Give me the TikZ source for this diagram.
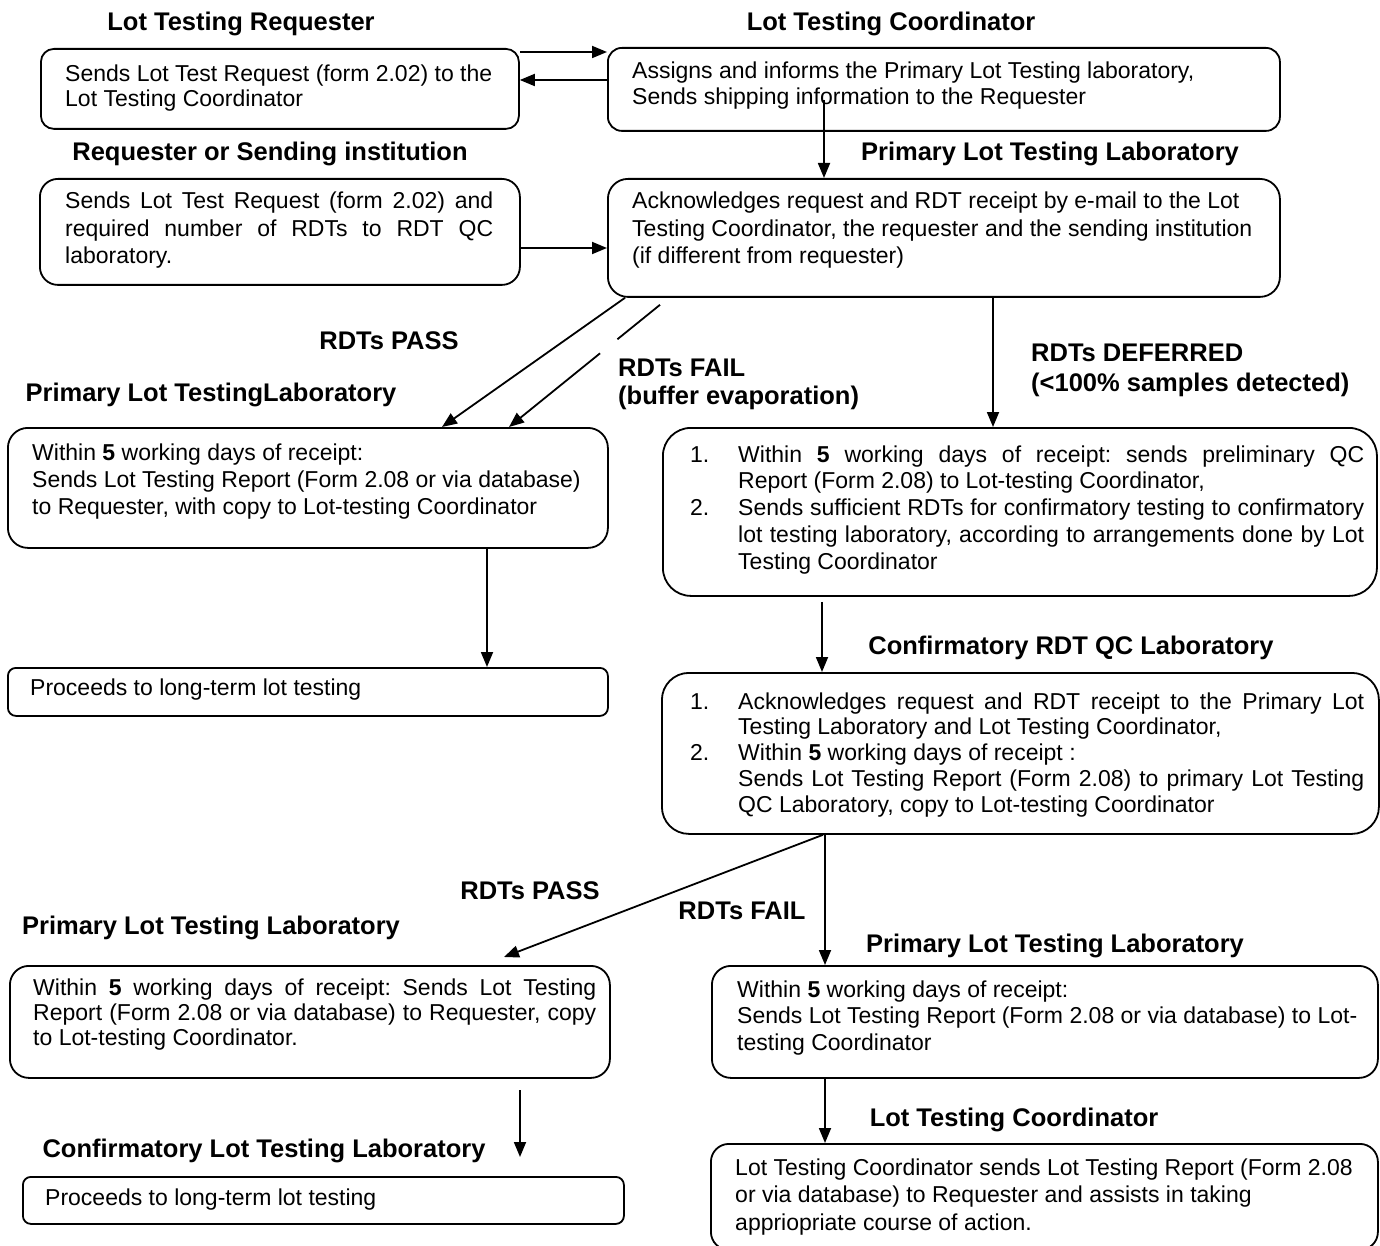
\documentclass[tikz,border=0pt]{standalone}
\usepackage{fontspec}
\setmainfont{Liberation Sans}
\usetikzlibrary{arrows.meta,calc}
\frenchspacing

% body text block: [baselineskip]{width}{lines}
\newcommand{\txtbox}[3][26.7]{\parbox[t]{#2pt}{\fontsize{23}{#1}\selectfont #3}}
% fully justified line of a given width
\newcommand{\jline}[2]{\makebox[#1pt][s]{#2}}
% list number and continuation indent
\newcommand{\num}[1]{\makebox[48pt][l]{#1}}
\newcommand{\contline}{\hspace*{48pt}}
% bold multi-line label
\newcommand{\headlines}[3]{\parbox[t]{#1pt}{\fontsize{25.5}{#2}\selectfont\bfseries #3}}

\tikzset{
  flowbox/.style={draw, line width=1.8pt, inner sep=0pt, anchor=north west},
  bodytext/.style={inner sep=0pt, anchor=base west},
  heading/.style={inner sep=0pt, anchor=base, font=\fontsize{25.5}{29}\selectfont\bfseries},
  flowarrow/.style={line width=1.8pt, -{Triangle[length=15pt,width=12pt]}},
}

\begin{document}
\begin{tikzpicture}[x=1pt,y=-1pt]
\useasboundingbox (0,0) rectangle (1380,1246);

% ---------- boxes ----------
\node[flowbox, rounded corners=13pt, minimum width=478pt, minimum height=80pt]  (A) at (40,48) {};
\node[flowbox, rounded corners=14pt, minimum width=672pt, minimum height=83pt]  (B) at (607,47) {};
\node[flowbox, rounded corners=18pt, minimum width=480pt, minimum height=106pt] (C) at (39,178) {};
\node[flowbox, rounded corners=20pt, minimum width=672pt, minimum height=118pt] (D) at (607,178) {};
\node[flowbox, rounded corners=20pt, minimum width=600pt, minimum height=120pt] (E) at (7,427) {};
\node[flowbox, rounded corners=8pt,  minimum width=600pt, minimum height=48pt]  (F) at (7,667) {};
\node[flowbox, rounded corners=28pt, minimum width=714pt, minimum height=168pt] (G) at (662,427) {};
\node[flowbox, rounded corners=27pt, minimum width=717pt, minimum height=161pt] (H) at (661,672) {};
\node[flowbox, rounded corners=19pt, minimum width=600pt, minimum height=112pt] (J) at (9,965) {};
\node[flowbox, rounded corners=19pt, minimum width=666pt, minimum height=112pt] (I) at (711,965) {};
\node[flowbox, rounded corners=8pt,  minimum width=601pt, minimum height=47pt]  (K) at (22,1176) {};
\node[flowbox, rounded corners=18pt, minimum width=667pt, minimum height=106pt] (L) at (710,1143) {};

% ---------- box texts ----------
\node[bodytext] (tA) at (65,82) {\txtbox[25]{470}{Sends Lot Test Request (form 2.02) to the\\
Lot Testing Coordinator}};
\node[bodytext] (tB) at (632,79) {\txtbox[26]{640}{Assigns and informs the Primary Lot Testing laboratory,\\
Sends shipping information to the Requester}};
\node[bodytext] (tC) at (65,209) {\txtbox[27.5]{440}{\jline{428}{Sends Lot Test Request (form 2.02) and}\\
\jline{428}{required number of RDTs to RDT QC}\\
laboratory.}};
\node[bodytext] (tD) at (632,209) {\txtbox[27.5]{660}{Acknowledges request and RDT receipt by e-mail to the Lot\\
Testing Coordinator, the requester and the sending institution\\
(if different from requester)}};
\node[bodytext] (tE) at (32,460) {\txtbox[27]{580}{Within \textbf{5} working days of receipt:\\
Sends Lot Testing Report (Form 2.08 or via database)\\
to Requester, with copy to Lot-testing Coordinator}};
\node[bodytext] (tF) at (30,695) {\txtbox{580}{Proceeds to long-term lot testing}};
\node[bodytext] (tG) at (690,462) {\txtbox[26.75]{690}{\num{1.}\jline{626}{Within \textbf{5} working days of receipt: sends preliminary QC}\\
\contline Report (Form 2.08) to Lot-testing Coordinator,\\
\num{2.}\jline{626}{Sends sufficient RDTs for confirmatory testing to confirmatory}\\
\contline\jline{626}{lot testing laboratory, according to arrangements done by Lot}\\
\contline Testing Coordinator}};
\node[bodytext] (tH) at (690,709) {\txtbox[25.8]{690}{\num{1.}\jline{626}{Acknowledges request and RDT receipt to the Primary Lot}\\
\contline Testing Laboratory and Lot Testing Coordinator,\\
\num{2.}Within \textbf{5} working days of receipt :\\
\contline\jline{626}{Sends Lot Testing Report (Form 2.08) to primary Lot Testing}\\
\contline QC Laboratory, copy to Lot-testing Coordinator}};
\node[bodytext] (tJ) at (33,995) {\txtbox[25]{570}{\jline{563}{Within \textbf{5} working days of receipt: Sends Lot Testing}\\
\jline{563}{Report (Form 2.08 or via database) to Requester, copy}\\
to Lot-testing Coordinator.}};
\node[bodytext] (tI) at (737,997) {\txtbox[26.5]{640}{Within \textbf{5} working days of receipt:\\
Sends Lot Testing Report (Form 2.08 or via database) to Lot-\\
testing Coordinator}};
\node[bodytext] (tL) at (735,1175) {\txtbox[27.5]{640}{Lot Testing Coordinator sends Lot Testing Report (Form 2.08\\
or via database) to Requester and assists in taking\\
appriopriate course of action.}};
\node[bodytext] (tK) at (45,1205) {\txtbox{570}{Proceeds to long-term lot testing}};

% ---------- headings and branch labels ----------
\node[heading] (hA) at (241,31)   {Lot Testing Requester};
\node[heading] (hB) at (891,31)   {Lot Testing Coordinator};
\node[heading] (hC) at (270,161)  {Requester or Sending institution};
\node[heading] (hD) at (1050,161) {Primary Lot Testing Laboratory};
\node[heading] (pass1) at (389,349) {RDTs PASS};
\node[heading] (hE) at (211,401)  {Primary Lot TestingLaboratory};
\node[bodytext] (fail1) at (618,376) {\headlines{300}{28}{RDTs FAIL\\(buffer evaporation)}};
\node[bodytext] (defer) at (1031,361) {\headlines{340}{30}{RDTs DEFERRED\\(<100\% samples detected)}};
\node[heading] (hH) at (1071,654) {Confirmatory RDT QC Laboratory};
\node[heading] (pass2) at (530,899) {RDTs PASS};
\node[heading] (fail2) at (742,919) {RDTs FAIL};
\node[heading] (hJ) at (211,934)  {Primary Lot Testing Laboratory};
\node[heading] (hI) at (1055,952) {Primary Lot Testing Laboratory};
\node[heading] (hL) at (1014,1126) {Lot Testing Coordinator};
\node[heading] (hK) at (264,1157) {Confirmatory Lot Testing Laboratory};

% ---------- connector columns ----------
\coordinate (rowTop) at (0,52);
\coordinate (rowBack) at (0,80);
\coordinate (rowReq) at (0,248);
\coordinate (colB) at (824,0);
\coordinate (colD) at (993,0);
\coordinate (colE) at (487,0);
\coordinate (colG) at (822,0);
\coordinate (colH) at (825,0);
\coordinate (colJ) at (520,0);
\coordinate (bStem) at (824,100);
\coordinate (jStem) at (520,1090);
\coordinate (kTip) at (520,1157);

% ---------- connectors ----------
\draw[flowarrow] (A.east |- rowTop) -- (B.west |- rowTop);
\draw[flowarrow] (B.west |- rowBack) -- (A.east |- rowBack);
\draw[flowarrow] (bStem) -- (D.north -| colB);
\draw[flowarrow] (C.east |- rowReq) -- (D.west |- rowReq);

% pass branch from the primary laboratory
\draw[flowarrow] ($(D.south west)+(18,0)$) -- ($(E.north west)+(435,0)$);
% fail branch, interrupted where its label sits
\coordinate (fS) at ($(D.south west)+(53,7)$);
\coordinate (fE) at ($(E.north west)+(502,0)$);
\draw[line width=1.8pt] (fS) -- ($(fS)!0.282!(fE)$);
\draw[flowarrow] ($(fS)!0.397!(fE)$) -- (fE);

\draw[flowarrow] (D.south -| colD) -- (G.north -| colD);
\draw[flowarrow] (E.south -| colE) -- (F.north -| colE);
\draw[flowarrow] ($(G.south -| colG)+(0,5)$) -- (H.north -| colG);
\draw[flowarrow] ($(H.south west)+(162,0)$) -- ($(J.north west)+(495,-8)$);
\draw[flowarrow] (H.south -| colH) -- (I.north -| colH);
\draw[flowarrow] (jStem) -- (kTip);
\draw[flowarrow] (I.south -| colH) -- (L.north -| colH);

\end{tikzpicture}
\end{document}
